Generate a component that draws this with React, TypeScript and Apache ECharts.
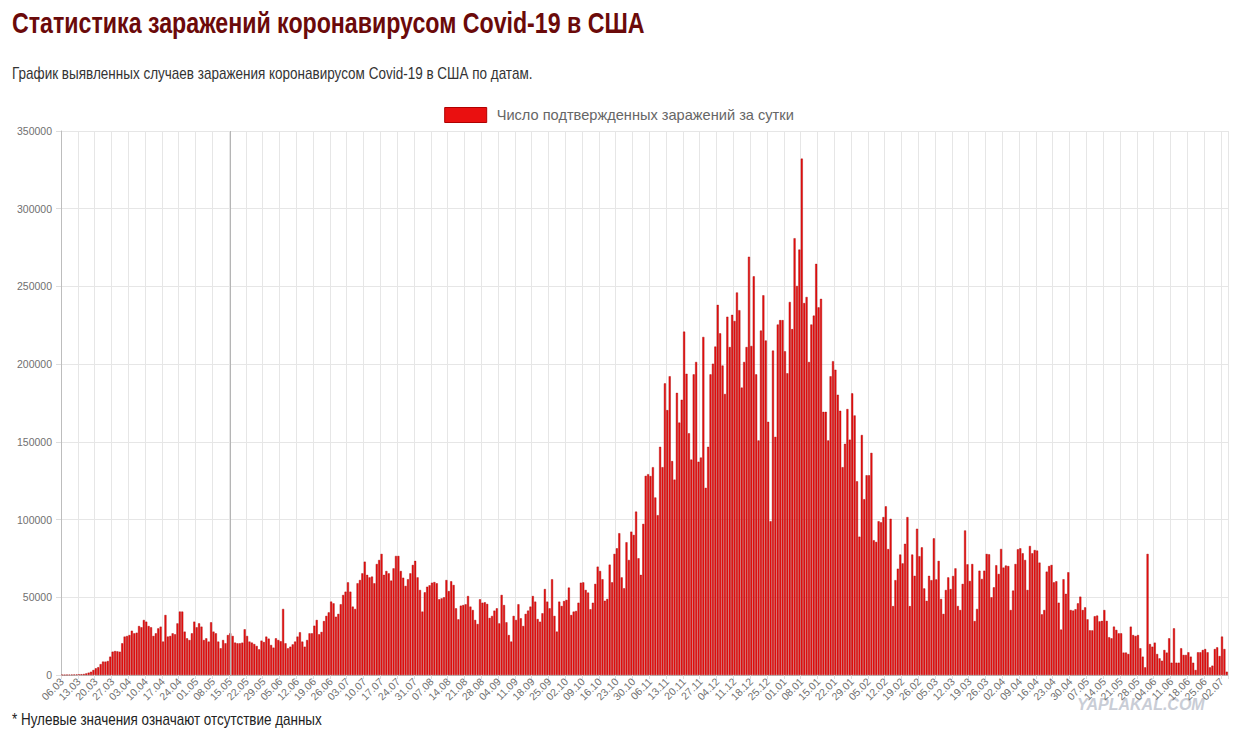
import React, { useEffect, useRef } from "react";
import * as echarts from "echarts";

// ---- Data (daily confirmed cases) ----
const startDate = { year: 2020, month: 3, day: 6 }; // 06.03.2020

const mar2020 = [100, 100, 150, 200, 250, 300, 350, 400, 500, 650, 1000, 1500, 2100, 3200, 4300, 5000, 7000, 8600, 8600, 9000, 11800, 15000, 15400, 15200, 15000, 20400];
const apr2020 = [24700, 25100, 25700, 28500, 26800, 27200, 31500, 30700, 35400, 34300, 31500, 30700, 25100, 26800, 30000, 31100, 21500, 38600, 24700, 25100, 26800, 26200, 33200, 40800, 40800, 27900, 23600, 22500, 26800, 34300];
const may2020 = [30700, 33200, 31100, 22500, 23600, 21500, 33900, 27900, 26800, 21500, 17200, 22500, 20400, 25700, 26800, 25100, 20800, 20400, 20400, 20800, 29400, 25100, 21500, 20800, 19900, 18700, 16500, 22100, 21200, 24700, 23400];
const jun2020 = [19300, 17600, 23600, 22500, 21700, 42500, 20400, 17200, 18200, 19700, 21500, 24700, 27500, 21500, 18200, 22500, 26800, 26800, 31700, 35400, 26200, 27700, 34700, 38000, 40300, 47200, 46100, 37500, 39300, 45500];
const jul2020 = [51500, 53600, 59600, 53600, 44000, 42500, 59000, 61100, 65400, 72900, 64400, 62800, 63300, 59000, 71400, 74000, 77900, 64400, 66900, 65400, 60700, 68600, 76600, 76600, 66900, 62600, 57300, 61600, 65400, 70800, 73400];
const aug2020 = [62800, 54700, 40800, 53200, 56800, 57700, 59400, 59800, 59000, 48700, 49300, 50000, 61100, 54000, 60300, 57900, 42900, 35800, 44600, 45000, 45500, 50800, 44000, 41800, 35400, 32800, 48700, 46500, 46800, 45700, 36700];
const sep2020 = [38000, 41400, 42900, 33200, 51500, 45000, 33900, 25700, 21500, 38000, 35400, 45500, 36500, 31500, 39300, 41400, 44000, 50800, 47200, 36000, 34300, 39700, 55300, 47200, 42900, 61600, 38000, 27900, 47200, 44400];
const oct2020 = [47600, 48300, 56200, 38600, 40800, 41200, 46500, 59400, 59600, 54700, 53000, 42300, 46500, 58600, 69700, 66900, 61600, 47800, 48900, 71000, 59600, 77900, 81500, 91200, 62800, 55800, 85400, 74000, 92200, 90100, 105100];
const nov2020 = [75100, 64400, 97200, 128100, 129200, 128000, 133700, 114200, 102800, 146800, 133700, 187600, 170400, 192200, 137600, 125700, 181500, 162400, 177100, 220900, 193800, 155500, 138600, 193400, 201400, 137200, 139900, 217500, 120400, 146800];
const dec2020 = [193400, 200300, 211300, 238100, 219800, 199100, 180800, 230500, 211000, 231700, 227800, 246100, 234700, 184900, 201400, 211000, 269100, 211700, 256500, 193400, 150900, 221600, 244300, 215200, 162900, 98900, 208700, 153200, 225500, 228300, 228300];
const jan2021 = [208300, 194100, 240000, 222500, 281000, 250300, 273700, 332200, 239300, 243200, 201400, 225500, 231200, 264500, 236500, 242000, 169300, 169300, 150900, 192200, 201900, 196400, 180300, 170000, 133700, 148700, 171100, 151400, 181200, 167000, 124600];
const feb2021 = [89000, 154400, 113100, 128500, 128500, 142900, 86700, 85600, 98900, 98200, 101600, 108500, 81000, 100500, 44300, 61000, 68400, 77500, 71800, 84400, 101600, 44300, 77500, 63800, 94100, 76400, 82100, 55700];
const mar2021 = [47700, 63800, 61000, 87900, 61500, 73400, 48900, 39300, 54700, 62800, 55300, 63700, 68600, 44400, 41800, 58600, 93000, 71200, 60500, 71400, 34700, 42500, 67100, 61800, 67100, 77900, 77600, 50000, 56400, 70600, 65000];
const apr2021 = [81100, 69100, 70400, 70100, 41800, 54300, 71400, 80900, 81500, 78300, 74000, 54700, 83000, 78300, 80400, 80000, 72300, 39000, 41800, 66500, 70100, 70800, 59600, 60300, 46500, 29200, 61600, 52200, 66100, 41800];
const may2021 = [41400, 42300, 46100, 50400, 41800, 43500, 35800, 28700, 28700, 37800, 38200, 34500, 34800, 41800, 34800, 24300, 23600, 31100, 29000, 26800, 26800, 14400, 14400, 13500, 31100, 25700, 25100, 25700, 17200, 11800, 4900];
const jun2021 = [77900, 19900, 18200, 20800, 13500, 10700, 9200, 16100, 14400, 23600, 7900, 30000, 7900, 7900, 17200, 12900, 12900, 14600, 11800, 7900, 3200, 14600, 14600, 16100, 16700, 14600, 4900, 6000, 16700, 17800];
const jul2021 = [12200, 24700, 16700, 2100];

const seriesName = "Число подтвержденных заражений за сутки";
const titleText = "Статистика заражений коронавирусом Covid-19 в США";
const subtitleText = "График выявленных случаев заражения коронавирусом Covid-19 в США по датам.";
const footnoteText = "* Нулевые значения означают отсутствие данных";
const watermarkText = "YAPLAKAL.COM";
const markedDate = "15.05";
const yMax = 350000;
const yStep = 50000;
const labelEvery = 7;

const dailyCases: number[] = [
  ...mar2020, ...apr2020, ...may2020, ...jun2020, ...jul2020, ...aug2020,
  ...sep2020, ...oct2020, ...nov2020, ...dec2020, ...jan2021, ...feb2021,
  ...mar2021, ...apr2021, ...may2021, ...jun2021, ...jul2021,
];

function buildDates(n: number): string[] {
  const out: string[] = [];
  for (let i = 0; i < n; i++) {
    const d = new Date(Date.UTC(startDate.year, startDate.month - 1, startDate.day + i));
    const dd = String(d.getUTCDate()).padStart(2, "0");
    const mm = String(d.getUTCMonth() + 1).padStart(2, "0");
    out.push(`${dd}.${mm}`);
  }
  return out;
}

const dates = buildDates(dailyCases.length);
const markedIndex = dates.indexOf(markedDate); // first occurrence (2020)

const SANS = "'Liberation Sans', Arial, sans-serif";

// Condensed look: measure the text and squeeze it horizontally to the target width.
function squeeze(text: string, font: string, targetWidth: number): number {
  const ctx = document.createElement("canvas").getContext("2d");
  if (!ctx) return 1;
  ctx.font = font;
  const w = ctx.measureText(text).width;
  return w > 0 ? targetWidth / w : 1;
}

export default function App() {
  const ref = useRef<HTMLDivElement>(null);

  useEffect(() => {
    if (!ref.current) return;
    const chart = echarts.init(ref.current, undefined, { renderer: "svg" });

    const titleFont = "bold 30px 'Liberation Sans', Arial, sans-serif";
    const subFont = "16px 'Liberation Sans', Arial, sans-serif";
    const noteFont = "16px 'Liberation Sans', Arial, sans-serif";

    chart.setOption({
      animation: false,
      backgroundColor: "#ffffff",
      legend: {
        top: 102,
        left: "center",
        icon: "rect",
        itemWidth: 42,
        itemHeight: 15,
        itemStyle: { color: "#ea1010", borderColor: "#b00000", borderWidth: 1 },
        textStyle: { color: "#666666", fontSize: 14.6, fontFamily: SANS, padding: [0, 0, 0, 5] },
        data: [seriesName],
      },
      grid: { left: 61, right: 10, top: 131, bottom: 58, containLabel: false },
      xAxis: {
        type: "category",
        data: dates,
        boundaryGap: true,
        axisLine: { show: true, lineStyle: { color: "#bdbdbd" } },
        axisTick: { show: true, interval: labelEvery - 1, length: 4, lineStyle: { color: "#dddddd" } },
        axisLabel: {
          interval: labelEvery - 1,
          rotate: 45,
          fontSize: 10.5,
          color: "#707070",
          margin: 5,
          fontFamily: SANS,
        },
        splitLine: { show: true, interval: labelEvery - 1, lineStyle: { color: "#e6e6e6", width: 1 } },
      },
      yAxis: {
        type: "value",
        min: 0,
        max: yMax,
        interval: yStep,
        axisLine: { show: true, lineStyle: { color: "#bdbdbd" } },
        axisTick: { show: true, length: 5, lineStyle: { color: "#dddddd" } },
        axisLabel: {
          fontSize: 10.5,
          color: "#707070",
          margin: 9,
          fontFamily: SANS,
          formatter: (v: number) => String(v),
        },
        splitLine: { show: true, lineStyle: { color: "#e6e6e6", width: 1 } },
      },
      series: [
        {
          type: "bar",
          name: seriesName,
          data: dailyCases,
          barCategoryGap: "16%",
          itemStyle: { color: "#ea1010", borderColor: "#a30000", borderWidth: 0.4 },
          markLine: {
            silent: true,
            symbol: "none",
            label: { show: false },
            lineStyle: { color: "#b5b5b5", width: 1, type: "solid" },
            data: [{ xAxis: markedIndex }],
          },
        },
      ],
      graphic: [
        {
          type: "text",
          x: 12,
          y: 8,
          scaleX: squeeze(titleText, titleFont, 633),
          style: { text: titleText, font: titleFont, fill: "#6b0a0a", verticalAlign: "top" },
        },
        {
          type: "text",
          x: 12,
          y: 66,
          scaleX: squeeze(subtitleText, subFont, 521),
          style: { text: subtitleText, font: subFont, fill: "#333333", verticalAlign: "top" },
        },
        {
          type: "text",
          x: 12,
          y: 712,
          scaleX: squeeze(footnoteText, noteFont, 310),
          style: { text: footnoteText, font: noteFont, fill: "#222222", verticalAlign: "top" },
        },
        {
          type: "text",
          x: 1077,
          y: 696,
          style: {
            text: watermarkText,
            font: "bold italic 16px 'Liberation Sans', Arial, sans-serif",
            fill: "#c9cdd6",
            verticalAlign: "top",
          },
        },
      ],
    });
    return () => chart.dispose();
  }, []);

  return (
    <div style={{ position: "absolute", left: 0, top: 0, width: 1238, height: 733, background: "#fff" }}>
      <div ref={ref} style={{ width: 1238, height: 733 }} />
    </div>
  );
}
